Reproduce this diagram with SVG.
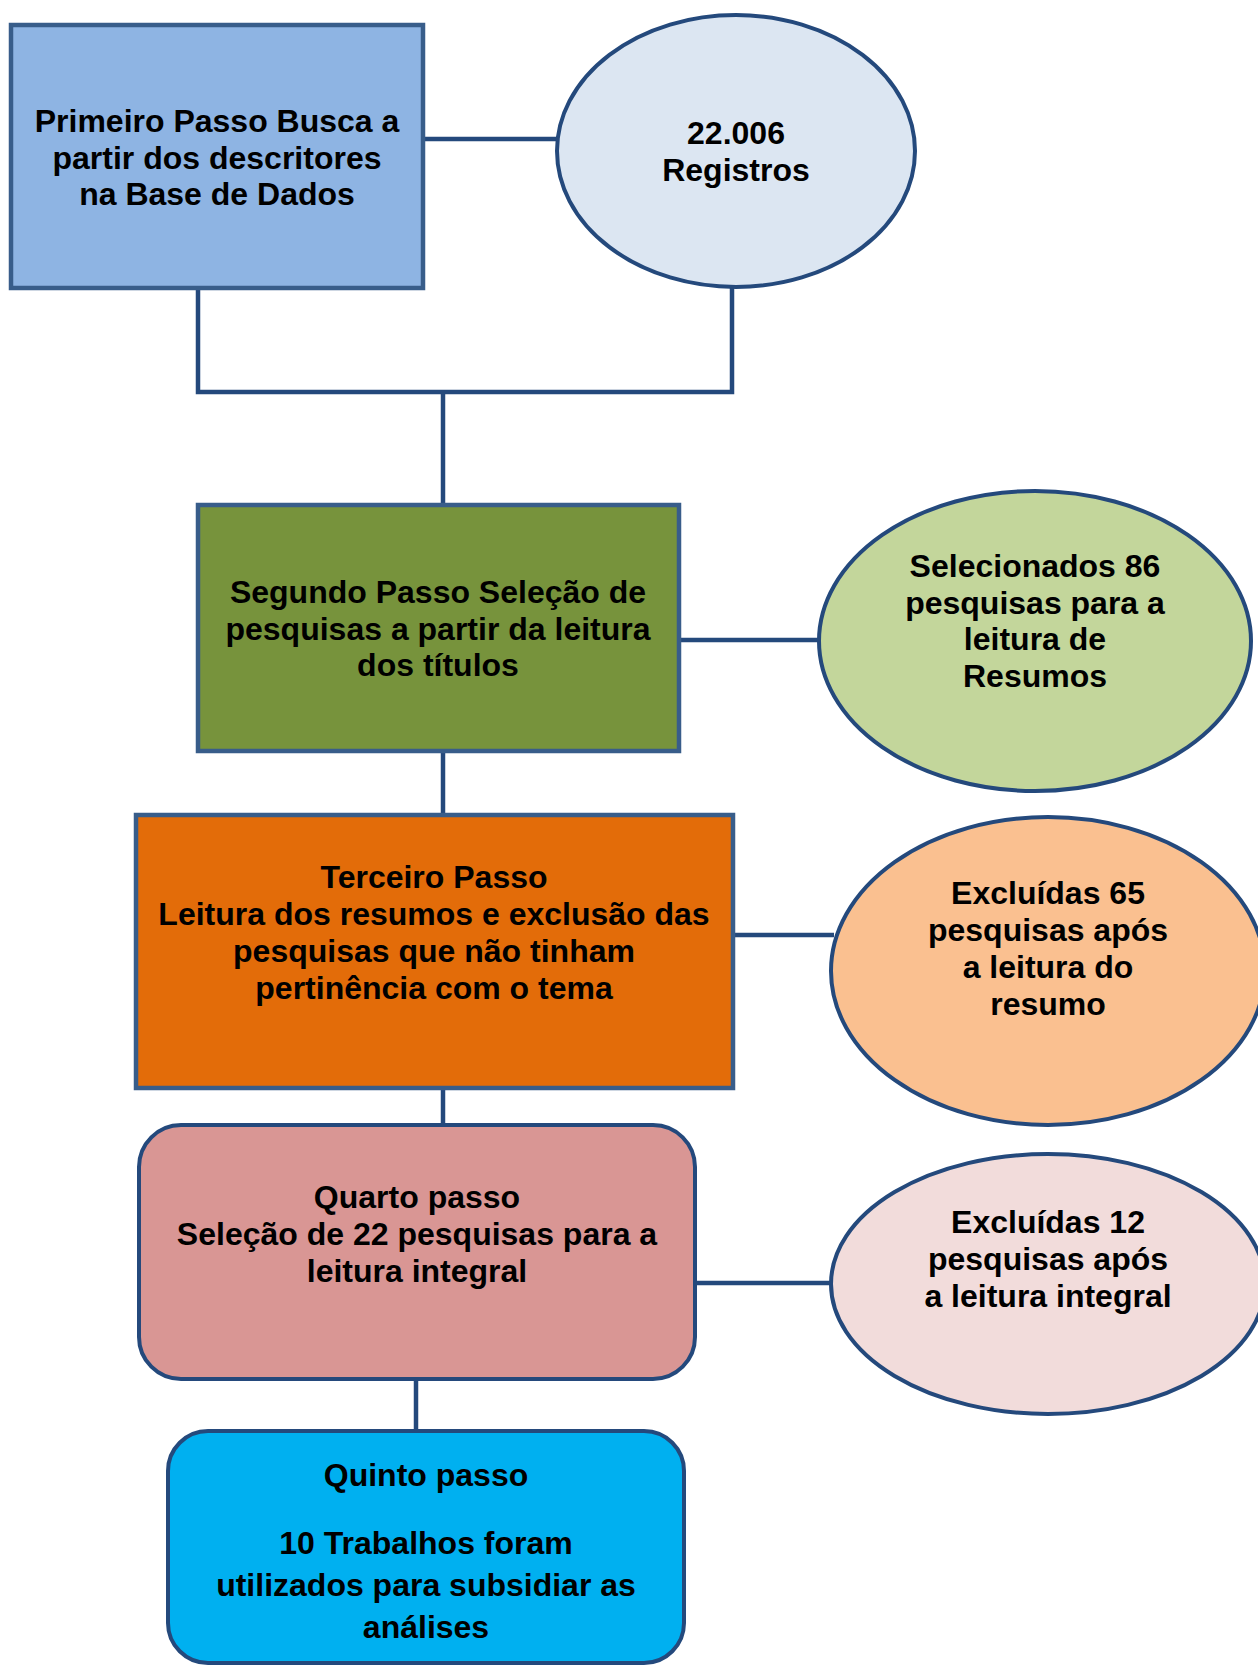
<svg xmlns="http://www.w3.org/2000/svg" width="1258" height="1666" viewBox="0 0 1258 1666">
<style>
text{font-family:"Liberation Sans",Arial,sans-serif;font-weight:bold;font-size:32px;fill:#000;text-anchor:middle}
.box{stroke:#385D8A;stroke-width:4.5}
.ell{stroke:#24497C;stroke-width:4}
.conn{fill:none;stroke:#24497C;stroke-width:4.5}
</style>
<rect width="1258" height="1666" fill="#fff"/>
<g id="connectors">
<line class="conn" x1="423" y1="139" x2="557" y2="139"/>
<polyline class="conn" points="198,288 198,392 732,392 732,288"/>
<line class="conn" x1="443" y1="392" x2="443" y2="505"/>
<line class="conn" x1="679" y1="640" x2="818" y2="640"/>
<line class="conn" x1="443" y1="751" x2="443" y2="815"/>
<line class="conn" x1="733" y1="935" x2="834" y2="935"/>
<line class="conn" x1="443" y1="1088" x2="443" y2="1125"/>
<line class="conn" x1="695" y1="1283" x2="832" y2="1283"/>
<line class="conn" x1="416" y1="1379" x2="416" y2="1431"/>
</g>
<g id="n1">
<rect class="box" x="11" y="25" width="412" height="263" fill="#8EB4E3"/>
<text x="217" y="132">Primeiro Passo Busca a</text>
<text x="217" y="169">partir dos descritores</text>
<text x="217" y="205">na Base de Dados</text>
</g>
<g id="n2">
<ellipse class="ell" cx="736" cy="151" rx="179" ry="136" fill="#DCE6F2"/>
<text x="736" y="144">22.006</text>
<text x="736" y="181">Registros</text>
</g>
<g id="n3">
<rect class="box" x="198" y="505" width="481" height="246" fill="#77933C"/>
<text x="438" y="603">Segundo Passo Seleção de</text>
<text x="438" y="640">pesquisas a partir da leitura</text>
<text x="438" y="676">dos títulos</text>
</g>
<g id="n4">
<ellipse class="ell" cx="1035" cy="641" rx="216" ry="150" fill="#C3D69B"/>
<text x="1035" y="577">Selecionados 86</text>
<text x="1035" y="614">pesquisas para a</text>
<text x="1035" y="650">leitura de</text>
<text x="1035" y="687">Resumos</text>
</g>
<g id="n5">
<rect class="box" x="136" y="815" width="597" height="273" fill="#E36C09"/>
<text x="434" y="888">Terceiro Passo</text>
<text x="434" y="925">Leitura dos resumos e exclusão das</text>
<text x="434" y="962">pesquisas que não tinham</text>
<text x="434" y="999">pertinência com o tema</text>
</g>
<g id="n6">
<ellipse class="ell" cx="1048" cy="971" rx="217" ry="154" fill="#FAC090"/>
<text x="1048" y="904">Excluídas 65</text>
<text x="1048" y="941">pesquisas após</text>
<text x="1048" y="978">a leitura do</text>
<text x="1048" y="1015">resumo</text>
</g>
<g id="n7">
<rect class="ell" x="139" y="1125" width="556" height="254" rx="42" ry="42" fill="#D99694"/>
<text x="417" y="1208">Quarto passo</text>
<text x="417" y="1245">Seleção de 22 pesquisas para a</text>
<text x="417" y="1282">leitura integral</text>
</g>
<g id="n8">
<ellipse class="ell" cx="1048" cy="1284" rx="217" ry="130" fill="#F2DCDB"/>
<text x="1048" y="1233">Excluídas 12</text>
<text x="1048" y="1270">pesquisas após</text>
<text x="1048" y="1307">a leitura integral</text>
</g>
<g id="n9">
<rect class="ell" x="168" y="1431" width="516" height="232" rx="40" ry="40" fill="#00B0F0"/>
<text x="426" y="1486">Quinto passo</text>
<text x="426" y="1554">10 Trabalhos foram</text>
<text x="426" y="1596">utilizados para subsidiar as</text>
<text x="426" y="1638">análises</text>
</g>
</svg>
